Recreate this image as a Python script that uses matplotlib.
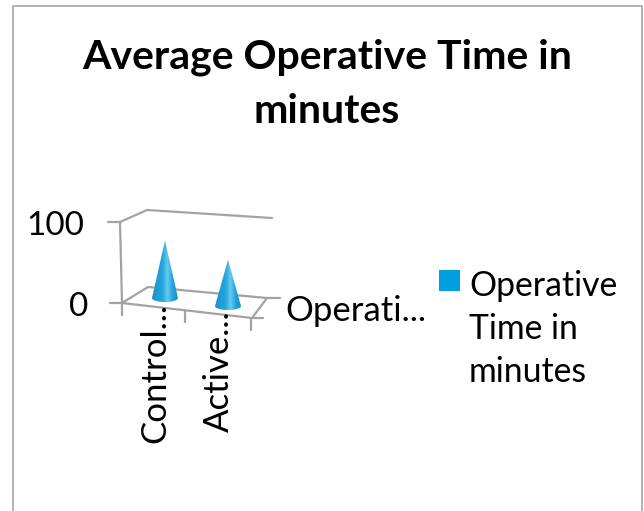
#!/usr/bin/python
'''
plot.py - average operative time, cone chart with a fake 3d frame
'''

import numpy as np
import matplotlib
matplotlib.use('Agg')
import matplotlib.pyplot as plt
from matplotlib.patches import PathPatch, Rectangle
from matplotlib.path import Path
from matplotlib.transforms import Affine2D
from matplotlib.colors import LinearSegmentedColormap

plt.rcParams['font.family'] = ['Lato', 'DejaVu Sans']

TITLE = 'Average Operative Time in\nminutes'
categories = ['Control...', 'Active...']
series_tick = 'Operati...'
series_name = 'Operative\nTime in\nminutes'
values = [71, 57]
value_ticks = [0, 100]

W, H = 644, 511
gray = '#a6a6a6'
axiscolor = '#a3a3a3'

fig = plt.figure(figsize=(W/100., H/100.), dpi=100)
ax = fig.add_axes([0, 0, 1, 1])
ax.set_xlim(0, W)
ax.set_ylim(H, 0)
ax.axis('off')

# maps (category index, value) to picture pixels, floor runs downhill to the right
chart = Affine2D.from_values(63, 8, 0, -0.81, 165, 298)

# outer border
ax.plot([13.5, 13.5, 642.5, 642.5], [H, 6.5, 6.5, H], color=gray, lw=1.2)

# walls and floor
frame = [
    ([120, 147, 272], [222, 210, 218]),
    ([120, 122], [222, 303]),
    ([122, 148, 267, 252, 122], [303, 287, 298, 318, 303]),
    ([108, 120], [222, 222]),
    ([110, 122], [303, 303]),
    ([122, 122], [303, 315]),
    ([185, 185], [311, 322]),
    ([251, 251], [318, 330]),
    ([252, 263], [318, 318]),
    ([267, 280], [298, 298]),
]
for xs, ys in frame:
    ax.plot(xs, ys, color=axiscolor, lw=1.6, solid_capstyle='round')

# cones with horizontal shading
cmap = LinearSegmentedColormap.from_list('cone', ['#1b8fc4', '#1f9dd4', '#25a5dc', '#62cbf0', '#25a3da', '#1a90c6'])
shade = np.linspace(0, 1, 64).reshape(1, -1)
halfw = 13.0
halfh = 4.0
theta = np.linspace(0, np.pi, 30)
for i, val in enumerate(values):
    bx, by = chart.transform((i, 0))
    tx, ty = chart.transform((i, val))
    ex = bx + halfw*np.cos(theta)
    ey = by + halfh*np.sin(theta)
    verts = [(tx, ty)] + list(zip(ex, ey)) + [(tx, ty)]
    clip = PathPatch(Path(verts), transform=ax.transData, fc='none', ec='none')
    ax.add_patch(clip)
    im = ax.imshow(shade, extent=(bx-halfw, bx+halfw, by+halfh, ty), cmap=cmap,
                   aspect='auto', zorder=3, interpolation='bilinear')
    im.set_clip_path(clip)
ax.set_xlim(0, W)
ax.set_ylim(H, 0)

# text
ax.text(327, 84, TITLE, ha='center', va='center', fontsize=29.5, fontweight='bold',
        color='black', linespacing=1.58)
ax.text(84, 226, str(value_ticks[1]), ha='right', va='center', fontsize=24)
ax.text(88, 307, str(value_ticks[0]), ha='right', va='center', fontsize=24)
ax.text(285, 311, series_tick, ha='left', va='center', fontsize=25)
ax.text(155, 443, categories[0], rotation=90, ha='center', va='bottom', fontsize=25)
ax.text(219, 432, categories[1], rotation=90, ha='center', va='bottom', fontsize=25)

# legend
ax.add_patch(Rectangle((439, 270), 21, 21, fc='#009fdf', ec='none'))
ax.text(469, 329, series_name, ha='left', va='center', fontsize=24.3, linespacing=1.44)

fig.savefig('out.png', dpi=100)
